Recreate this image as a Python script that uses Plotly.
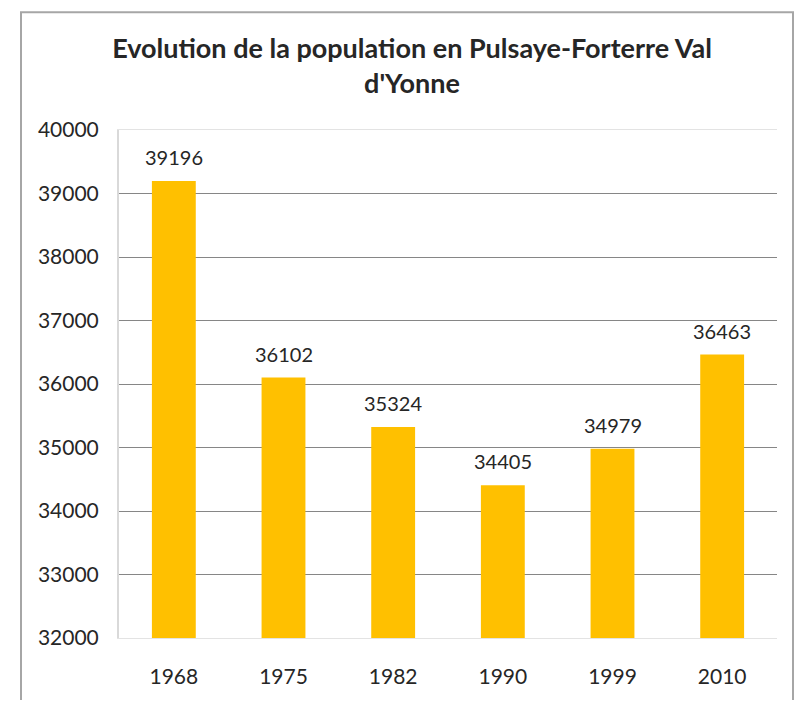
import plotly.graph_objects as go

# Population par année de recensement
years = ['1968', '1975', '1982', '1990', '1999', '2010']
population = [39196, 36102, 35324, 34405, 34979, 36463]

title_text = "Evolution de la population en Pulsaye-Forterre Val<br>d'Yonne"
bar_color = '#FFC000'
text_color = '#262626'

fig = go.Figure()
fig.add_trace(go.Bar(
    x=years,
    y=population,
    marker=dict(color=bar_color, line=dict(width=0)),
    hoverinfo='x+y',
))

# étiquettes de valeur au-dessus des barres (x = indice de la catégorie)
for i, val in enumerate(population):
    fig.add_annotation(x=i, y=val, xref='x', yref='y', text=str(val),
                       showarrow=False, yanchor='bottom', yshift=10,
                       font=dict(family='Lato', size=20, color=text_color))

# la page a une marge de 8 px : la figure fait 789x692
fig.update_layout(
    width=789,
    height=692,
    margin=dict(l=111, r=20, t=122, b=48),
    paper_bgcolor='white',
    plot_bgcolor='white',
    bargap=0.6,
    showlegend=False,
    title=dict(
        text='<b>' + title_text + '</b>',
        x=404 / 789,
        xanchor='center',
        y=1 - 50 / 692,
        yanchor='top',
        font=dict(family='Lato', size=27, color=text_color),
    ),
    font=dict(family='Lato', size=20, color=text_color),
)

fig.update_yaxes(
    range=[32000, 40000],
    dtick=1000,
    tickformat='d',
    showgrid=True,
    gridcolor='#868686',
    gridwidth=1,
    zeroline=False,
    showline=True,
    linecolor='#d9d9d9',
    linewidth=2,
    ticks='',
    ticklabelstandoff=14,
    tickfont=dict(family='Lato', size=21, color=text_color),
)

fig.update_xaxes(
    type='category',
    range=[-0.5, len(years) - 0.5],
    showgrid=False,
    showline=True,
    mirror=True,
    linecolor='#e3e3e3',
    linewidth=1,
    ticks='',
    ticklabelstandoff=20,
    tickfont=dict(family='Lato', size=21, color=text_color),
)

# cadre gris autour du graphique
fig.add_shape(type='rect', xref='paper', yref='paper',
              x0=-98 / 658, x1=674 / 658, y0=-80 / 522, y1=643 / 522,
              line=dict(color='#a6a6a6', width=2), layer='below')

fig.write_html("out.html")
